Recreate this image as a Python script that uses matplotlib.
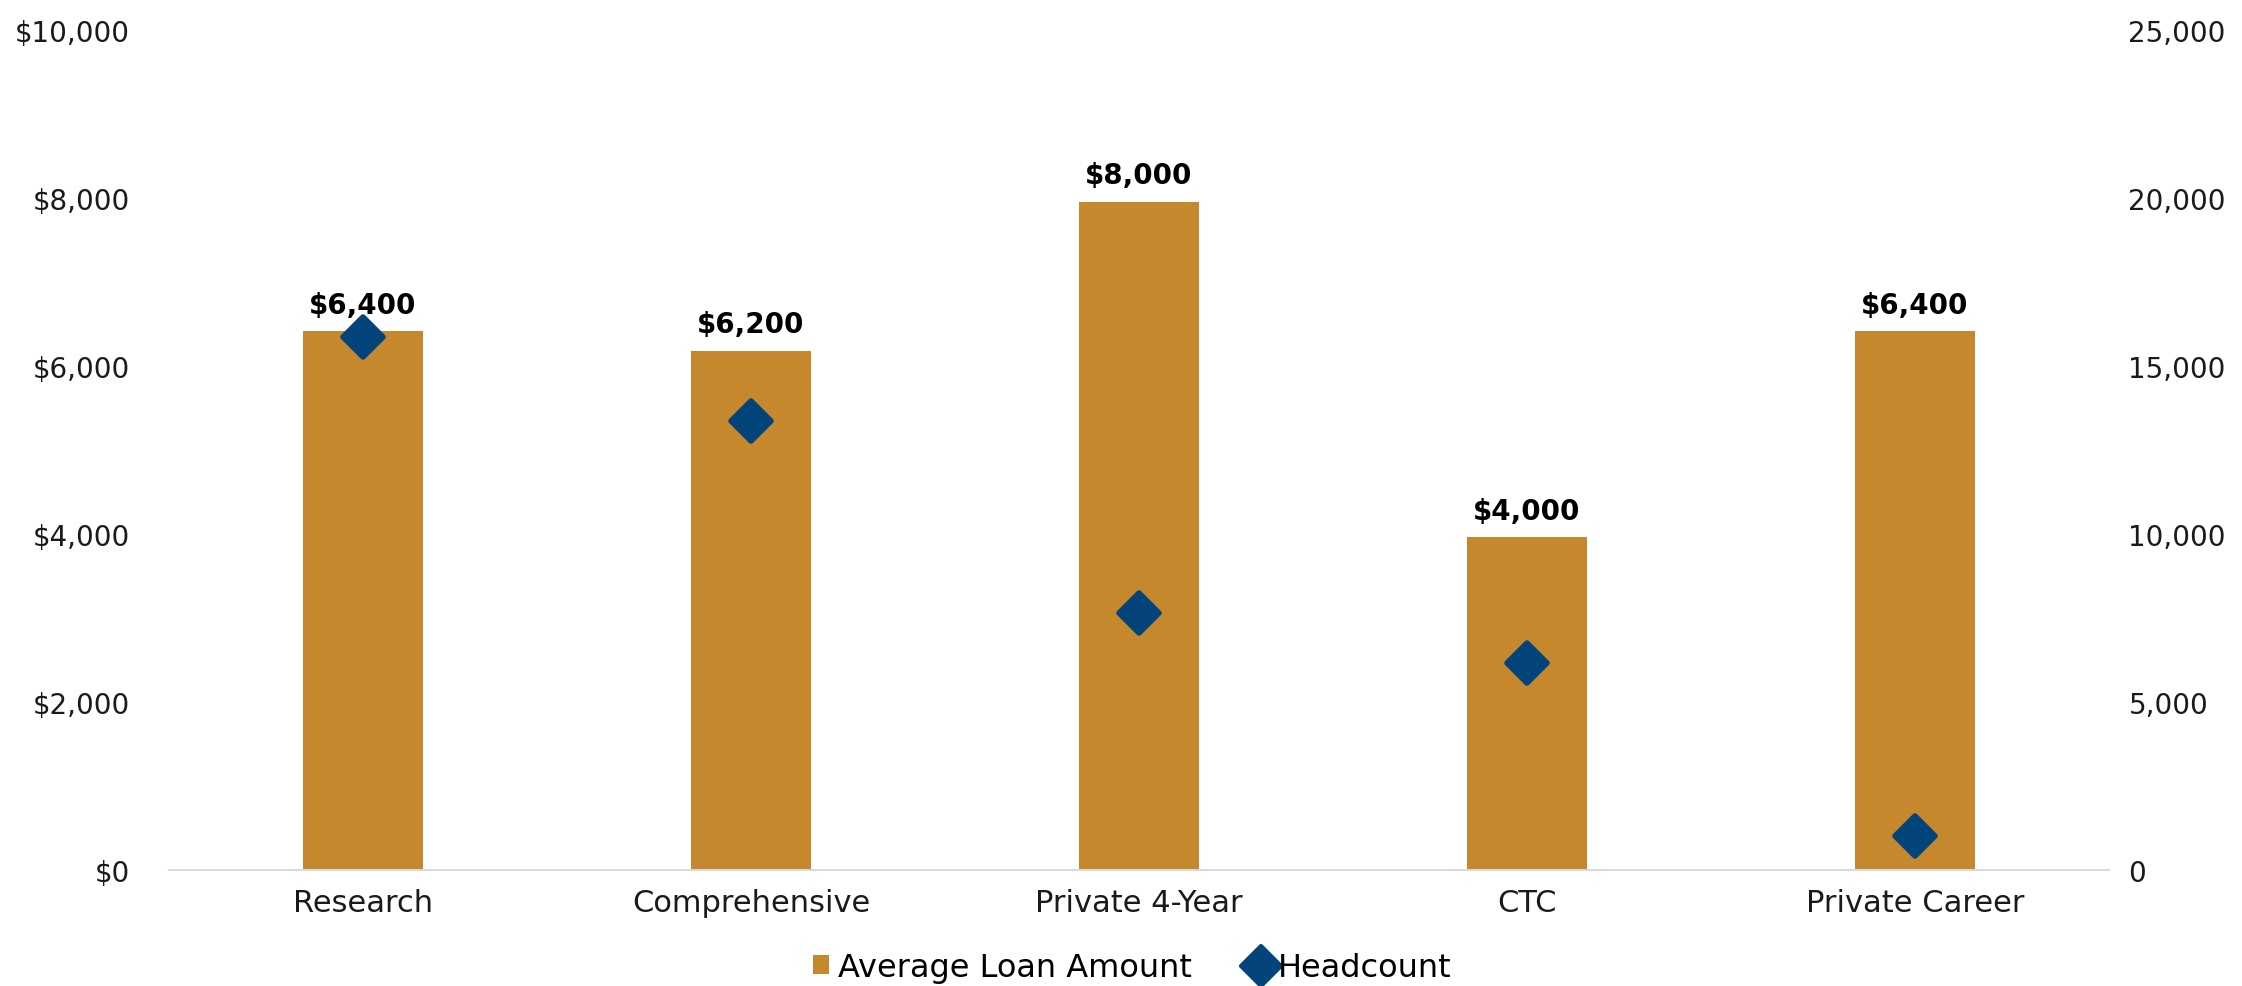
import matplotlib
matplotlib.use("Agg")
import matplotlib.pyplot as plt
from matplotlib.ticker import FuncFormatter
from matplotlib.lines import Line2D
from matplotlib.patches import Patch
from matplotlib.markers import MarkerStyle

categories = ["Research", "Comprehensive", "Private 4-Year", "CTC", "Private Career"]
avg_loan = [6410, 6180, 7950, 3960, 6410]
headcount = [15870, 13360, 7660, 6170, 1020]
left_ticks = [0, 2000, 4000, 6000, 8000, 10000]
right_ticks = [0, 5000, 10000, 15000, 20000, 25000]

bar_color = "#C5882D"
dia_color = "#03457A"

plt.rcParams['font.family'] = ['DejaVu Sans']
fig = plt.figure(figsize=(22.42, 9.87), dpi=100)
ax = fig.add_axes([0.0754, 0.1175, 0.8653, 0.8514])
ax2 = ax.twinx()

x = list(range(len(categories)))
ax.bar(x, avg_loan, width=0.31, color=bar_color, zorder=2)
for xi, v in zip(x, avg_loan):
    ax.text(xi, v + 150, f"${round(v, -2):,.0f}", ha="center", va="bottom",
            fontsize=20, fontweight="bold", color="black")

dmark = MarkerStyle("D", joinstyle="round")
ax2.plot(x, headcount, linestyle="none", marker=dmark, markersize=20,
         markerfacecolor=dia_color, markeredgecolor=dia_color, markeredgewidth=4,
         color=dia_color, zorder=3)

ax.set_xlim(-0.5, len(categories) - 0.5)
ax.set_ylim(0, 10000)
ax2.set_ylim(0, 25000)
ax.set_yticks(left_ticks)
ax2.set_yticks(right_ticks)
ax.yaxis.set_major_formatter(FuncFormatter(lambda v, p: f"${v:,.0f}"))
ax2.yaxis.set_major_formatter(FuncFormatter(lambda v, p: f"{v:,.0f}"))
ax.set_xticks(x)
ax.set_xticklabels(categories)

for a in (ax, ax2):
    for s in ("top", "left", "right", "bottom"):
        a.spines[s].set_visible(False)
ax.spines["bottom"].set_visible(True)
ax.spines["bottom"].set_color("#D9D9D9")
ax.spines["bottom"].set_linewidth(1.5)

ax.tick_params(axis="y", length=0, pad=28, labelsize=20, labelcolor="#1a1a1a")
ax2.tick_params(axis="y", length=0, pad=14, labelsize=20, labelcolor="#1a1a1a")
ax.tick_params(axis="x", length=0, pad=13, labelsize=22, labelcolor="#1a1a1a")

handles = [Patch(facecolor=bar_color, edgecolor="none"),
           Line2D([], [], linestyle="none", marker=MarkerStyle("D", joinstyle="round"),
                  markersize=20, markerfacecolor=dia_color, markeredgecolor=dia_color,
                  markeredgewidth=3)]
leg = fig.legend(handles, ["Average Loan Amount", "Headcount"], loc="center",
                 bbox_to_anchor=(0.505, 0.019), ncol=2, frameon=False, fontsize=23,
                 handlelength=0.5, handleheight=0.5, handletextpad=0.3, columnspacing=1.9)

fig.savefig("out.png", dpi=100)
